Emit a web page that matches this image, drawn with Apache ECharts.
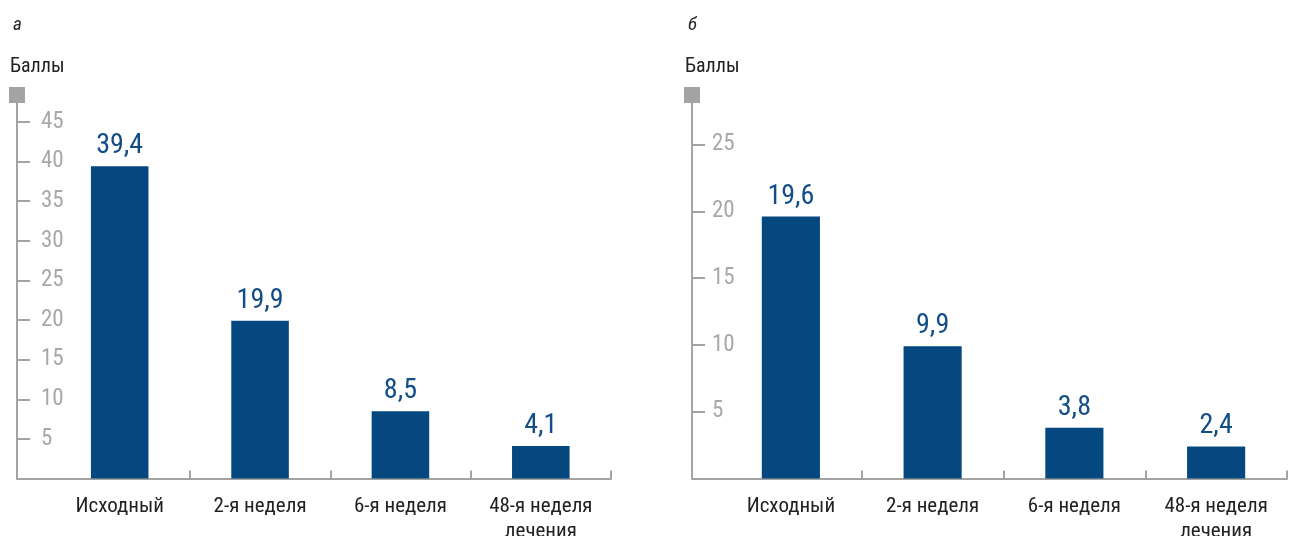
<!DOCTYPE html>
<html>
<head>
<meta charset="utf-8">
<script src="https://cdn.jsdelivr.net/npm/echarts@6/dist/echarts.min.js"></script>
<style>
  html, body { margin: 0; padding: 0; background: #fff; }
  #chart { width: 1296px; height: 536px; }
</style>
</head>
<body>
<div id="chart"></div>
<script>
// Данные
const categories = ['Исходный', '2-я неделя', '6-я неделя', '48-я неделя\nлечения'];
const valuesA = [39.4, 19.9, 8.5, 4.1];
const valuesB = [19.6, 9.9, 3.8, 2.4];
const ticksA = [5, 10, 15, 20, 25, 30, 35, 40, 45];
const ticksB = [5, 10, 15, 20, 25];

const FONT = '"Roboto Condensed", Roboto, sans-serif';
const BAR_COLOR = '#04487f';
const LABEL_COLOR = '#124d87';
const AXIS_COLOR = '#a3a3a3';
const TICK_LABEL_COLOR = '#a8a8a8';

const TOP = 95;
const BOTTOM = 57.5;

function fmt(v) {
    return String(v).replace('.', ',');
}

// полная ось (с "хвостом" слева) + сетка для столбиков
function panel(idx, axisLeft, bandLeft, right, maxVal, ticks, values, labelMargin) {
    const g0 = idx * 2, g1 = idx * 2 + 1;
    return {
        grids: [
            { left: axisLeft, width: right - axisLeft, top: TOP, bottom: BOTTOM, outerBoundsMode: 'none', containLabel: false },
            { left: bandLeft, width: right - bandLeft, top: TOP, bottom: BOTTOM, outerBoundsMode: 'none', containLabel: false }
        ],
        xAxes: [
            {
                gridIndex: g0, type: 'value', min: 0, max: 1,
                axisLine: { show: true, lineStyle: { color: AXIS_COLOR, width: 2 } },
                axisTick: { show: false }, axisLabel: { show: false }, splitLine: { show: false }
            },
            {
                gridIndex: g1, type: 'category', data: categories,
                axisLine: { show: false },
                axisTick: {
                    show: true, inside: true, length: 8,
                    interval: function (index) { return index !== 0; },
                    lineStyle: { color: AXIS_COLOR, width: 2 }
                },
                axisLabel: {
                    interval: 0, margin: 16, color: '#222', fontFamily: FONT,
                    fontSize: 21, lineHeight: 25
                }
            }
        ],
        yAxes: [
            {
                gridIndex: g0, type: 'value', min: 0, max: maxVal,
                axisLine: {
                    show: true, symbol: ['none', 'rect'], symbolSize: [16, 16],
                    lineStyle: { color: AXIS_COLOR, width: 2 }
                },
                axisTick: {
                    show: true, inside: true, length: 13, customValues: ticks,
                    lineStyle: { color: AXIS_COLOR, width: 2 }
                },
                axisLabel: {
                    inside: true, margin: labelMargin, customValues: ticks,
                    color: TICK_LABEL_COLOR, fontFamily: FONT, fontSize: 23,
                    padding: [5, 0, 0, 0]
                },
                splitLine: { show: false }
            },
            {
                gridIndex: g1, type: 'value', min: 0, max: maxVal, show: false
            }
        ],
        series: {
            type: 'bar', xAxisIndex: g1, yAxisIndex: g1, data: values,
            barWidth: '41%',
            itemStyle: { color: BAR_COLOR },
            label: {
                show: true, position: 'top', distance: 6,
                color: LABEL_COLOR, fontFamily: FONT, fontSize: 28,
                formatter: function (p) { return fmt(p.value); }
            }
        }
    };
}

const pA = panel(0, 17, 49.5, 611, 48.4, ticksA, valuesA, 24);
const pB = panel(1, 692, 720, 1287, 28.7, ticksB, valuesB, 20);

const titleStyle = { fontFamily: FONT, fontSize: 20, fontWeight: 'normal', color: '#222' };

const option = {
    animation: false,
    title: [
        { text: 'а', left: 8, top: 11, textStyle: Object.assign({}, titleStyle, { fontStyle: 'italic', fontSize: 19 }) },
        { text: 'Баллы', left: 5, top: 52, textStyle: titleStyle },
        { text: 'б', left: 683, top: 11, textStyle: Object.assign({}, titleStyle, { fontStyle: 'italic', fontSize: 19 }) },
        { text: 'Баллы', left: 680, top: 52, textStyle: titleStyle }
    ],
    grid: pA.grids.concat(pB.grids),
    xAxis: pA.xAxes.concat(pB.xAxes),
    yAxis: pA.yAxes.concat(pB.yAxes),
    series: [pA.series, pB.series]
};

const chart = echarts.init(document.getElementById('chart'));
chart.setOption(option);
</script>
</body>
</html>
